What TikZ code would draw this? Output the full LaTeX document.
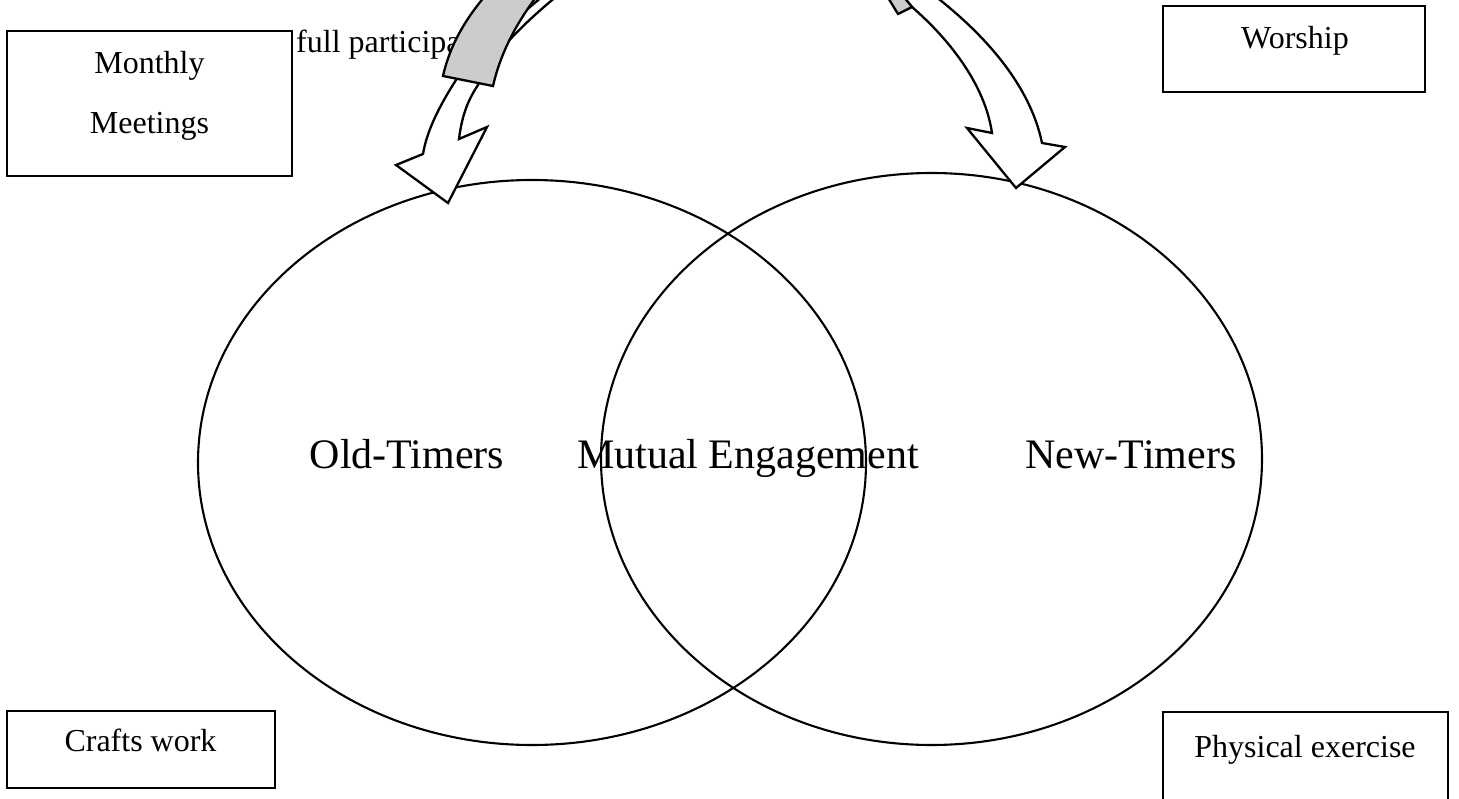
\documentclass[tikz,border=0pt]{standalone}
\usepackage{fontspec}
\setmainfont{Liberation Serif}
\usetikzlibrary{shapes.geometric}
\definecolor{BandShade}{RGB}{204,204,204}

\begin{document}
\begin{tikzpicture}[x=1pt, y=-1pt,
    every node/.style={inner sep=0pt, font=\fontsize{32}{38}\selectfont},
    framebox/.style={draw, line width=2.8pt, fill=white},
    ring/.style={draw, ellipse, line width=2.1pt},
    bigtext/.style={font=\fontsize{42}{50}\selectfont},
    band/.style={draw, line width=2.3pt, fill=white}]
  \useasboundingbox (0,0) rectangle (1459,799);
  \clip (0,0) rectangle (1459,799);

  % running text, partly under the box and the arrow
  \node[anchor=base west] (fulltext) at (296,53) {full participa};

  % activity boxes
  \node[framebox, minimum width=285pt, minimum height=145pt] (monthly) at (149.5,103.5) {};
  \node[framebox, minimum width=262pt, minimum height=86pt] (worship) at (1294,49) {};
  \node[framebox, minimum width=268pt, minimum height=77pt] (crafts) at (141,749.5) {};
  \node[framebox, minimum width=285pt, minimum height=140pt] (physical) at (1305.5,782) {};
  \node[align=center, font=\fontsize{32}{60}\selectfont] (monthlytxt) at (149.5,95.6) {Monthly\\Meetings};
  \node[anchor=base] (worshiptxt) at (1295,49) {Worship};
  \node[anchor=base] (craftstxt) at (140.5,751) {Crafts work};
  \node[anchor=base] (physicaltxt) at (1305,757) {Physical exercise};

  % the two groups
  \node[bigtext, anchor=base] (oldlabel) at (407,468) {Old-Timers};
  \node[bigtext, anchor=base] (mutuallabel) at (748,468) {Mutual Engagement};
  \node[bigtext, anchor=base] (newlabel) at (1131,468) {New-Timers};
  \node[ring, minimum width=668pt, minimum height=565pt] (oldring) at (532,462.5) {};
  \node[ring, minimum width=661pt, minimum height=572pt] (newring) at (931.5,459) {};

  % curved arrow down to the old-timers
  \draw[band] (557,-4) .. controls (530,18) and (490,55) .. (478,85)
    .. controls (468,100) and (462,115) .. (459,139) -- (487,127) -- (448,203)
    -- (396,165) -- (423,154) .. controls (427,130) and (440,105) .. (456,80)
    .. controls (470,55) and (515,20) .. (543,-4) -- cycle;
  \draw[band, fill=BandShade] (443,76) .. controls (450,45) and (465,20) .. (485,-4)
    -- (537,-4) .. controls (515,25) and (500,55) .. (493,86) -- cycle;

  % curved arrow down to the new-timers
  \draw[band] (903,-4) -- (912,7) .. controls (950,40) and (985,85) .. (992,133)
    -- (967,128) -- (1016,188) -- (1065,147) -- (1042,143)
    .. controls (1030,85) and (985,35) .. (935,-4) -- cycle;
  \draw[band, fill=BandShade] (887,-4) -- (898,14) -- (912,7) -- (903,-4) -- cycle;
\end{tikzpicture}
\end{document}
